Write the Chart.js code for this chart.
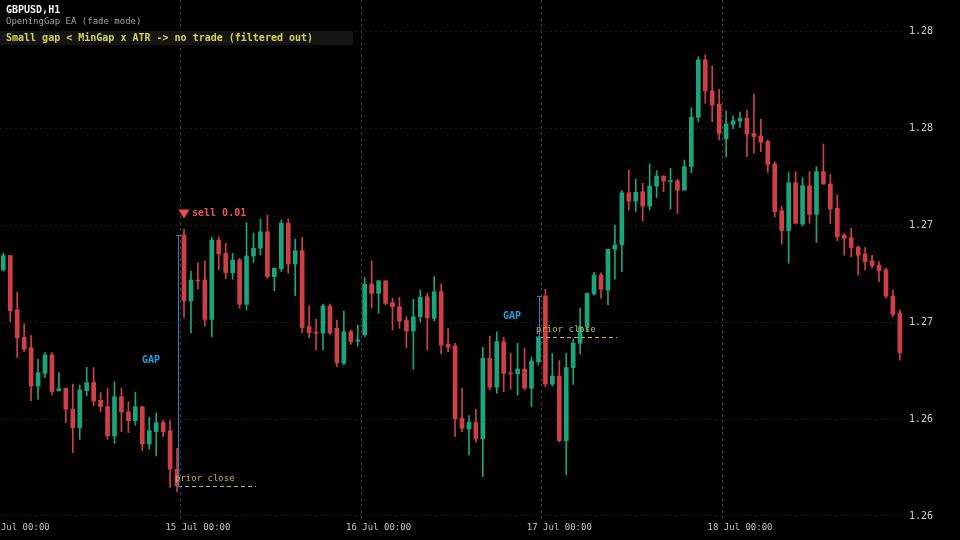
<!DOCTYPE html>
<html>
<head>
<meta charset="utf-8">
<script src="https://cdn.jsdelivr.net/npm/chart.js@4/dist/chart.umd.min.js"></script>
<style>
  html, body { margin: 0; padding: 0; background: #000; }
  canvas { display: block; }
</style>
</head>
<body>
<canvas id="chart" width="960" height="540"></canvas>
<script>
// GBPUSD H1 candles, one per bar index
const opens = [
  1.27015, 1.27074, 1.26850, 1.26737, 1.26694, 1.26536, 1.26588, 1.26664, 1.26516, 1.26527,
  1.26441, 1.26364, 1.26517, 1.26551, 1.26477, 1.26451, 1.26330, 1.26492, 1.26430, 1.26393,
  1.26451, 1.26297, 1.26348, 1.26385, 1.26352, 1.26193, 1.27159, 1.26887, 1.26973, 1.26973,
  1.26811, 1.27138, 1.27083, 1.27003, 1.27056, 1.26873, 1.27072, 1.27104, 1.27172, 1.26987,
  1.27019, 1.27207, 1.27039, 1.27094, 1.26781, 1.26758, 1.26754, 1.26866, 1.26774, 1.26630,
  1.26760, 1.26721, 1.26747, 1.26957, 1.26918, 1.26970, 1.26880, 1.26863, 1.26808, 1.26763,
  1.26822, 1.26904, 1.26815, 1.26925, 1.26708, 1.26701, 1.26403, 1.26359, 1.26386, 1.26318,
  1.26650, 1.26531, 1.26719, 1.26590, 1.26586, 1.26606, 1.26527, 1.26636, 1.26907, 1.26544,
  1.26577, 1.26311, 1.26612, 1.26712, 1.26781, 1.26916, 1.26994, 1.26932, 1.27100, 1.27118,
  1.27333, 1.27299, 1.27337, 1.27278, 1.27361, 1.27402, 1.27379, 1.27382, 1.27344, 1.27441,
  1.27644, 1.27881, 1.27753, 1.27699, 1.27555, 1.27615, 1.27629, 1.27640, 1.27578, 1.27567,
  1.27544, 1.27452, 1.27259, 1.27177, 1.27374, 1.27204, 1.27362, 1.27244, 1.27420, 1.27369,
  1.27269, 1.27158, 1.27148, 1.27108, 1.27081, 1.27053, 1.27035, 1.27015, 1.26907, 1.26836
];
const highs = [
  1.27083, 1.27074, 1.26923, 1.26792, 1.26744, 1.26646, 1.26674, 1.26674, 1.26591, 1.26528,
  1.26544, 1.26540, 1.26613, 1.26612, 1.26509, 1.26527, 1.26554, 1.26527, 1.26471, 1.26510,
  1.26451, 1.26407, 1.26424, 1.26396, 1.26393, 1.26279, 1.27182, 1.27010, 1.27045, 1.27052,
  1.27149, 1.27151, 1.27125, 1.27083, 1.27063, 1.27210, 1.27166, 1.27225, 1.27241, 1.27023,
  1.27221, 1.27225, 1.27142, 1.27149, 1.26866, 1.26811, 1.26874, 1.26874, 1.26808, 1.26845,
  1.26767, 1.26788, 1.26983, 1.27052, 1.26970, 1.26970, 1.26898, 1.26902, 1.26822, 1.26894,
  1.26932, 1.26918, 1.26987, 1.26957, 1.26774, 1.26712, 1.26527, 1.26414, 1.26440, 1.26696,
  1.26742, 1.26760, 1.26737, 1.26671, 1.26712, 1.26692, 1.26655, 1.26739, 1.26935, 1.26671,
  1.26641, 1.26671, 1.26730, 1.26857, 1.26920, 1.27005, 1.27003, 1.27100, 1.27200, 1.27342,
  1.27427, 1.27389, 1.27372, 1.27452, 1.27424, 1.27402, 1.27434, 1.27389, 1.27468, 1.27684,
  1.27894, 1.27901, 1.27856, 1.27760, 1.27670, 1.27650, 1.27666, 1.27674, 1.27740, 1.27637,
  1.27551, 1.27461, 1.27278, 1.27416, 1.27420, 1.27395, 1.27420, 1.27441, 1.27534, 1.27409,
  1.27324, 1.27166, 1.27187, 1.27114, 1.27107, 1.27076, 1.27049, 1.27022, 1.26932, 1.26850
];
const lows = [
  1.27010, 1.26801, 1.26653, 1.26678, 1.26476, 1.26481, 1.26570, 1.26499, 1.26516, 1.26385,
  1.26261, 1.26316, 1.26496, 1.26455, 1.26430, 1.26316, 1.26300, 1.26348, 1.26344, 1.26375,
  1.26269, 1.26275, 1.26248, 1.26327, 1.26118, 1.26100, 1.26819, 1.26756, 1.26935, 1.26784,
  1.26739, 1.27015, 1.26979, 1.26976, 1.26857, 1.26850, 1.27045, 1.27076, 1.26980, 1.26929,
  1.27008, 1.27001, 1.26909, 1.26756, 1.26735, 1.26685, 1.26685, 1.26747, 1.26616, 1.26623,
  1.26708, 1.26701, 1.26739, 1.26857, 1.26836, 1.26870, 1.26767, 1.26774, 1.26694, 1.26605,
  1.26801, 1.26685, 1.26804, 1.26668, 1.26678, 1.26327, 1.26348, 1.26252, 1.26304, 1.26162,
  1.26520, 1.26506, 1.26513, 1.26523, 1.26499, 1.26520, 1.26451, 1.26623, 1.26533, 1.26536,
  1.26306, 1.26169, 1.26543, 1.26667, 1.26760, 1.26911, 1.26898, 1.26870, 1.26976, 1.27008,
  1.27262, 1.27255, 1.27217, 1.27262, 1.27313, 1.27337, 1.27266, 1.27248, 1.27344, 1.27416,
  1.27626, 1.27702, 1.27626, 1.27551, 1.27482, 1.27596, 1.27603, 1.27482, 1.27496, 1.27502,
  1.27417, 1.27234, 1.27122, 1.27042, 1.27207, 1.27196, 1.27207, 1.27129, 1.27369, 1.27207,
  1.27135, 1.27076, 1.27069, 1.26994, 1.27015, 1.27022, 1.26966, 1.26898, 1.26822, 1.26643
];
const closes = [
  1.27074, 1.26847, 1.26735, 1.26688, 1.26536, 1.26591, 1.26664, 1.26513, 1.26525, 1.26441,
  1.26364, 1.26520, 1.26550, 1.26474, 1.26451, 1.26331, 1.26492, 1.26429, 1.26393, 1.26451,
  1.26297, 1.26352, 1.26385, 1.26348, 1.26193, 1.26124, 1.26887, 1.26973, 1.26969, 1.26811,
  1.27138, 1.27081, 1.27003, 1.27056, 1.26873, 1.27072, 1.27104, 1.27172, 1.26987, 1.27022,
  1.27207, 1.27039, 1.27094, 1.26777, 1.26756, 1.26754, 1.26866, 1.26755, 1.26632, 1.26760,
  1.26719, 1.26726, 1.26956, 1.26918, 1.26970, 1.26877, 1.26863, 1.26804, 1.26763, 1.26822,
  1.26902, 1.26818, 1.26925, 1.26705, 1.26696, 1.26400, 1.26362, 1.26386, 1.26318, 1.26650,
  1.26531, 1.26719, 1.26588, 1.26586, 1.26606, 1.26527, 1.26639, 1.26739, 1.26544, 1.26577,
  1.26311, 1.26612, 1.26712, 1.26781, 1.26918, 1.26994, 1.26935, 1.27100, 1.27118, 1.27333,
  1.27299, 1.27335, 1.27278, 1.27361, 1.27402, 1.27382, 1.27382, 1.27344, 1.27441, 1.27644,
  1.27881, 1.27753, 1.27695, 1.27578, 1.27617, 1.27630, 1.27640, 1.27575, 1.27564, 1.27541,
  1.27450, 1.27255, 1.27177, 1.27374, 1.27207, 1.27362, 1.27244, 1.27420, 1.27369, 1.27266,
  1.27152, 1.27145, 1.27107, 1.27076, 1.27049, 1.27032, 1.27012, 1.26907, 1.26832, 1.26674
];

// x axis: day labels and day separators (bar index)
const dayTickIdx = [2, 28, 54, 80, 106];
const dayTickLabels = ['14 Jul 00:00', '15 Jul 00:00', '16 Jul 00:00', '17 Jul 00:00', '18 Jul 00:00'];
const daySplitIdx = [25.5, 51.5, 77.5, 103.5];

// y axis ticks
const yTickValues = [1.260, 1.264, 1.268, 1.272, 1.276, 1.280];
const yTickLabels = ['1.26', '1.26', '1.27', '1.27', '1.28', '1.28'];

// EA markers
const gapBarIdx = [25, 77];   // last bar before the opening gap
const sellIdx = 26;
const sellText = 'sell 0.01';

const UP = '#1aa57a';
const DOWN = '#cf4046';
const MONO = '"DejaVu Sans Mono", monospace';

const barColor = (i) => closes[i] >= opens[i] ? UP : DOWN;

const xTicks = dayTickIdx.concat(daySplitIdx).sort((a, b) => a - b);

const overlay = {
  id: 'overlay',
  afterDatasetsDraw(chart) {
    const { ctx, scales: { x, y } } = chart;
    ctx.save();

    gapBarIdx.forEach(i => {
      const gx = Math.round(x.getPixelForValue(i + 0.15));
      const yPrior = Math.round(y.getPixelForValue(closes[i]));
      const yOpen = Math.round(y.getPixelForValue(opens[i + 1]));

      // prior close line
      ctx.strokeStyle = '#c8b34c';
      ctx.lineWidth = 1;
      ctx.setLineDash([4, 3]);
      ctx.beginPath();
      ctx.moveTo(gx, yPrior + 0.5);
      ctx.lineTo(gx + 78, yPrior + 0.5);
      ctx.stroke();
      ctx.setLineDash([]);

      // gap bar
      ctx.strokeStyle = '#2b7fc2';
      ctx.beginPath();
      ctx.moveTo(gx + 0.5, yOpen);
      ctx.lineTo(gx + 0.5, yPrior);
      ctx.moveTo(gx - 2, yOpen + 0.5);
      ctx.lineTo(gx + 3, yOpen + 0.5);
      ctx.moveTo(gx - 2, yPrior + 0.5);
      ctx.lineTo(gx + 3, yPrior + 0.5);
      ctx.stroke();

      ctx.font = 'bold 10px ' + MONO;
      ctx.fillStyle = '#1f9fdf';
      ctx.textAlign = 'center';
      ctx.textBaseline = 'middle';
      ctx.fillText('GAP', gx - 27, (yOpen + yPrior) / 2);

      ctx.font = '9px ' + MONO;
      ctx.fillStyle = '#c8b34c';
      ctx.textAlign = 'left';
      ctx.textBaseline = 'alphabetic';
      ctx.fillText('prior close', gx - 3, yPrior - 5);
    });

    // sell marker above the gap bar
    const sx = x.getPixelForValue(sellIdx);
    const sy = y.getPixelForValue(highs[sellIdx]);
    ctx.fillStyle = '#ee4b4b';
    ctx.beginPath();
    ctx.moveTo(sx - 5.5, sy - 20);
    ctx.lineTo(sx + 5.5, sy - 20);
    ctx.lineTo(sx, sy - 11);
    ctx.closePath();
    ctx.fill();
    ctx.font = 'bold 10px ' + MONO;
    ctx.fillStyle = '#e85858';
    ctx.textAlign = 'left';
    ctx.textBaseline = 'middle';
    ctx.fillText(sellText, sx + 8, sy - 16);

    ctx.restore();
  },
  afterDraw(chart) {
    const ctx = chart.ctx;
    ctx.save();
    ctx.fillStyle = '#151515';
    ctx.fillRect(0, 31, 353, 14);
    ctx.textAlign = 'left';
    ctx.textBaseline = 'middle';
    ctx.font = 'bold 10px ' + MONO;
    ctx.fillStyle = '#f0f0f0';
    ctx.fillText('GBPUSD,H1', 6, 10);
    ctx.font = '9px ' + MONO;
    ctx.fillStyle = '#a0a0a0';
    ctx.fillText('OpeningGap EA (fade mode)', 6, 21.5);
    ctx.font = 'bold 10px ' + MONO;
    ctx.fillStyle = '#d4d452';
    ctx.fillText('Small gap < MinGap x ATR -> no trade (filtered out)', 6, 38.5);
    ctx.restore();
  }
};

const ctx = document.getElementById('chart').getContext('2d');

const myChart = new Chart(ctx, {
  type: 'bar',
  data: {
    datasets: [
      {
        label: 'body',
        data: closes.map((c, i) => ({ x: i, y: [opens[i], c] })),
        backgroundColor: (c) => barColor(c.dataIndex),
        barThickness: 4,
        minBarLength: 1,
        borderWidth: 0,
        grouped: false,
        order: 0
      },
      {
        label: 'wick',
        data: highs.map((h, i) => ({ x: i, y: [lows[i], h] })),
        backgroundColor: (c) => barColor(c.dataIndex),
        barThickness: 1,
        borderWidth: 0,
        grouped: false,
        order: 1
      }
    ]
  },
  options: {
    responsive: false,
    animation: false,
    layout: { padding: 0, autoPadding: false },
    plugins: { legend: { display: false }, tooltip: { enabled: false } },
    scales: {
      x: {
        type: 'linear',
        min: -0.475,
        max: 129.74,
        offset: false,
        afterBuildTicks: (s) => { s.ticks = xTicks.map(v => ({ value: v })); },
        afterFit: (s) => { s.height = 20; s.paddingLeft = 0; s.paddingRight = 0; },
        grid: {
          offset: false,
          drawTicks: false,
          lineWidth: 1,
          color: (c) => (c.tick && daySplitIdx.includes(c.tick.value)) ? '#3a3a3a' : 'rgba(0,0,0,0)'
        },
        border: { display: false, dash: [3, 3] },
        ticks: {
          autoSkip: false,
          maxRotation: 0,
          padding: 2,
          color: '#c4c4c4',
          font: { family: MONO, size: 9 },
          callback: (v) => {
            const k = dayTickIdx.indexOf(v);
            return k >= 0 ? dayTickLabels[k] : '';
          }
        }
      },
      y: {
        type: 'linear',
        position: 'right',
        min: 1.259835,
        max: 1.28128,
        afterBuildTicks: (s) => { s.ticks = yTickValues.map(v => ({ value: v })); },
        afterFit: (s) => { s.width = 55; s.paddingTop = 0; s.paddingBottom = 0; },
        grid: { drawTicks: false, color: '#1e1e1e', lineWidth: 1 },
        border: { display: false, dash: [2, 3] },
        ticks: {
          padding: 4,
          color: '#cfcfcf',
          font: { family: MONO, size: 10 },
          callback: (v, i) => yTickLabels[i]
        }
      }
    }
  },
  plugins: [overlay]
});
</script>
</body>
</html>
